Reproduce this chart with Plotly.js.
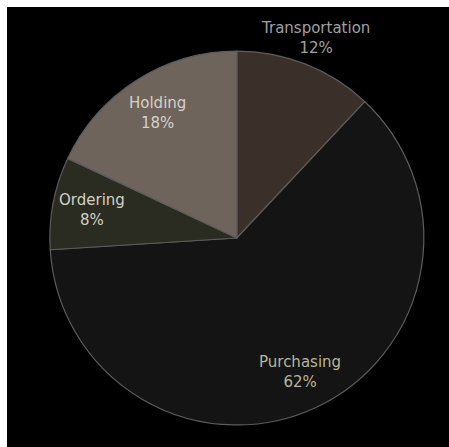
<!DOCTYPE html>
<html>
<head>
<meta charset="utf-8">
<script src="https://cdn.plot.ly/plotly-3.0.1.min.js"></script>
<style>
html,body{margin:0;padding:0;background:#ffffff;width:449px;height:447px;overflow:hidden;}
#chart{position:absolute;left:7px;top:7px;width:442px;height:440px;}
</style>
</head>
<body>
<div id="chart"></div>
<script>
var categories = ["Transportation", "Purchasing", "Ordering", "Holding"];
var values = [12, 62, 8, 18];
var sliceColors = ["#3a3029", "#141414", "#2a2c22", "#6e645b"];
var textColors = ["#a0a0a0", "#b8b69c", "#d2d2c4", "#d8d0c8"];
var labelOutside = [true, false, false, false];

var W = 442, H = 440;
var dom = {x: [0.097, 0.943], y: [0.05, 0.90]};

var trace = {
  type: "pie",
  labels: categories,
  values: values,
  sort: false,
  direction: "clockwise",
  rotation: 0,
  textinfo: "none",
  marker: {colors: sliceColors, line: {color: "#5c5c5c", width: 1.2}},
  domain: dom,
  hoverinfo: "label+percent",
  showlegend: false
};

// label placement derived from the data (slice mid-angles)
var total = values.reduce(function (a, b) { return a + b; }, 0);
var cx = (dom.x[0] + dom.x[1]) / 2, cy = (dom.y[0] + dom.y[1]) / 2;
var rPx = Math.min((dom.x[1] - dom.x[0]) * W, (dom.y[1] - dom.y[0]) * H) / 2;
var cum = 0;
var annotations = categories.map(function (cat, i) {
  var mid = (cum + values[i] / 2) / total * 2 * Math.PI;
  cum += values[i];
  var f = labelOutside[i] ? 1.15 : 0.79;
  var pct = Math.round(values[i] / total * 100) + "%";
  return {
    xref: "paper", yref: "paper",
    x: cx + Math.sin(mid) * rPx * f / W,
    y: cy + Math.cos(mid) * rPx * f / H,
    xanchor: "center", yanchor: "middle",
    text: cat + "<br>" + pct,
    showarrow: false,
    font: {family: "DejaVu Sans", size: 15, color: textColors[i]}
  };
});

var layout = {
  width: W,
  height: H,
  paper_bgcolor: "#000000",
  plot_bgcolor: "#000000",
  margin: {l: 0, r: 0, t: 0, b: 0},
  showlegend: false,
  annotations: annotations
};

Plotly.newPlot("chart", [trace], layout, {displayModeBar: false, staticPlot: true});
</script>
</body>
</html>
